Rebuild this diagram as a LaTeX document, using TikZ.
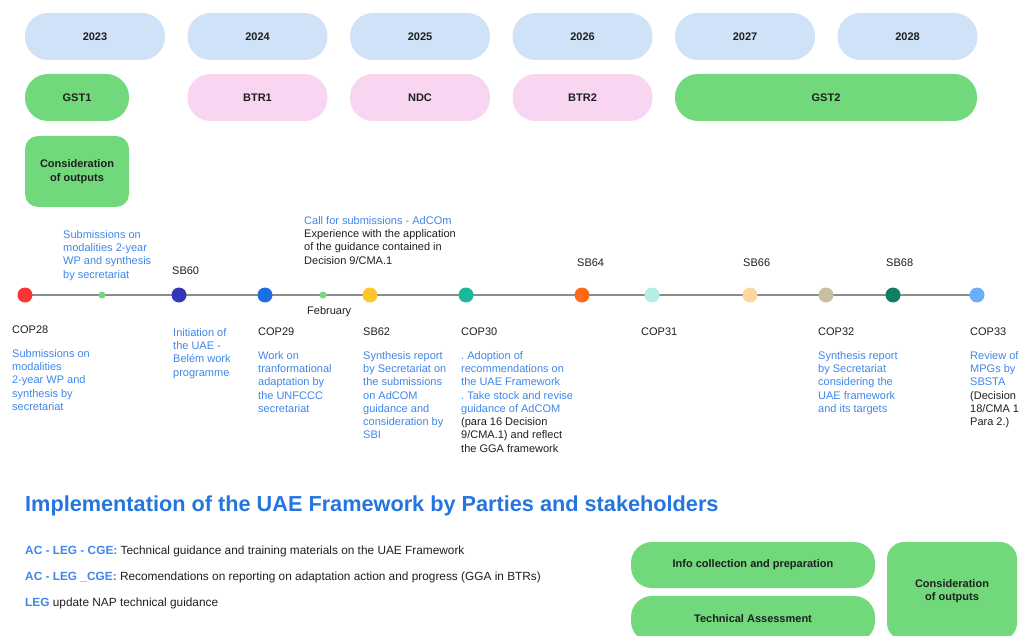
\documentclass[tikz,border=0pt]{standalone}
\usepackage{fontspec}
\setmainfont{Liberation Sans}
\usetikzlibrary{backgrounds}
\frenchspacing

\definecolor{yearblue}{HTML}{CFE2F8}
\definecolor{phasegreen}{HTML}{71D97B}
\definecolor{reportpink}{HTML}{F8D5F1}
\definecolor{ink}{HTML}{1F1F1F}
\definecolor{lblue}{HTML}{3F86E8}
\definecolor{titleblue}{HTML}{2475E0}
\definecolor{axisgray}{HTML}{8C8C8C}

\begin{document}
\begin{tikzpicture}[x=1pt,y=-1pt,
  box/.style={inner sep=0pt, align=center, text=ink,
    font=\fontsize{11}{13.6}\selectfont\bfseries},
  pill/.style={box, rounded corners=23pt, minimum height=47pt},
  yearpill/.style={pill, fill=yearblue, minimum width=140pt},
  greenpill/.style={pill, fill=phasegreen},
  pinkpill/.style={pill, fill=reportpink, minimum width=140pt},
  greenbox/.style={box, fill=phasegreen, rounded corners=13pt},
  dot/.style={circle, minimum size=15pt, inner sep=0pt},
  smalldot/.style={circle, minimum size=7pt, inner sep=0pt, fill=phasegreen},
  lbl/.style={font=\fontsize{11}{13.3}\selectfont, align=left, inner sep=0pt,
    anchor=north west, text=ink},
  bluelbl/.style={lbl, text=lblue},
  bottomline/.style={font=\fontsize{11.85}{14}\selectfont, inner sep=0pt,
    anchor=west, text=ink},
]
\useasboundingbox (0,0) rectangle (1019,636);
\clip (0,0) rectangle (1019,636);

% years
\node[yearpill] (y2023) at (95,36.5) {2023};
\node[yearpill] (y2024) at (257.5,36.5) {2024};
\node[yearpill] (y2025) at (420,36.5) {2025};
\node[yearpill] (y2026) at (582.5,36.5) {2026};
\node[yearpill] (y2027) at (745,36.5) {2027};
\node[yearpill] (y2028) at (907.5,36.5) {2028};

% processes
\node[greenpill, minimum width=104pt] (gst1) at (77,97.5) {GST1};
\node[pinkpill] (btr1) at (257.5,97.5) {BTR1};
\node[pinkpill] (ndc) at (420,97.5) {NDC};
\node[pinkpill] (btr2) at (582.5,97.5) {BTR2};
\node[greenpill, minimum width=302pt] (gst2) at (826,97.5) {GST2};
\node[greenbox, minimum width=104pt, minimum height=71pt] (cons1) at (77,171.5)
  {Consideration\\of outputs};

% timeline
\node[dot, fill={rgb,255:red,255;green,51;blue,51}] (d1) at (25,295) {};
\node[smalldot] (d2) at (102,295) {};
\node[dot, fill={rgb,255:red,53;green,53;blue,184}] (d3) at (179,295) {};
\node[dot, fill={rgb,255:red,26;green,111;blue,230}] (d4) at (265,295) {};
\node[smalldot] (d5) at (323,295) {};
\node[dot, fill={rgb,255:red,255;green,198;blue,39}] (d6) at (370,295) {};
\node[dot, fill={rgb,255:red,25;green,185;blue,154}] (d7) at (466,295) {};
\node[dot, fill={rgb,255:red,255;green,106;blue,26}] (d8) at (582,295) {};
\node[dot, fill={rgb,255:red,179;green,238;blue,230}] (d9) at (652,295) {};
\node[dot, fill={rgb,255:red,252;green,215;blue,158}] (d10) at (750,295) {};
\node[dot, fill={rgb,255:red,201;green,191;blue,159}] (d11) at (826,295) {};
\node[dot, fill={rgb,255:red,14;green,127;blue,98}] (d12) at (893,295) {};
\node[dot, fill={rgb,255:red,106;green,174;blue,248}] (d13) at (977,295) {};
\begin{scope}[on background layer]
  \draw[axisgray, line width=2pt] (d1.center) -- (d13.center);
\end{scope}

% labels above the timeline
\node[bluelbl] (subA) at (63,230)
  {Submissions on\\modalities 2-year\\WP and synthesis\\by secretariat};
\node[lbl] (sb60) at (172,267) {SB60};
\node[lbl] (call) at (304,216)
  {\textcolor{lblue}{Call for submissions - AdCOm}\\Experience with the application\\of the guidance contained in\\Decision 9/CMA.1};
\node[lbl] (feb) at (307,306) {February};
\node[lbl] (sb64) at (577,259) {SB64};
\node[lbl] (sb66) at (743,259) {SB66};
\node[lbl] (sb68) at (886,259) {SB68};

% labels below the timeline
\node[lbl] (cop28) at (12,326) {COP28};
\node[bluelbl] (subB) at (12,349)
  {Submissions on\\modalities\\2-year WP and\\synthesis by\\secretariat};
\node[bluelbl] (init) at (173,328) {Initiation of\\the UAE -\\Belém work\\programme};
\node[lbl] (cop29) at (258,328) {COP29};
\node[bluelbl] (work) at (258,351)
  {Work on\\tranformational\\adaptation by\\the UNFCCC\\secretariat};
\node[lbl] (sb62) at (363,328) {SB62};
\node[bluelbl] (synth) at (363,351)
  {Synthesis report\\by Secretariat on\\the submissions\\on AdCOM\\guidance and\\consideration by\\SBI};
\node[lbl] (cop30) at (461,328) {COP30};
\node[lbl] (adopt) at (461,351)
  {\textcolor{lblue}{. Adoption of}\\\textcolor{lblue}{recommendations on}\\\textcolor{lblue}{the UAE Framework}\\\textcolor{lblue}{. Take stock and revise}\\\textcolor{lblue}{guidance of AdCOM}\\(para 16 Decision\\9/CMA.1) and reflect\\the GGA framework};
\node[lbl] (cop31) at (641,328) {COP31};
\node[lbl] (cop32) at (818,328) {COP32};
\node[bluelbl] (synth2) at (818,351)
  {Synthesis report\\by Secretariat\\considering the\\UAE framework\\and its targets};
\node[lbl] (cop33) at (970,328) {COP33};
\node[lbl] (review) at (970,351)
  {\textcolor{lblue}{Review of}\\\textcolor{lblue}{MPGs by}\\\textcolor{lblue}{SBSTA}\\(Decision\\18/CMA 1\\Para 2.)};

% implementation section
\node[inner sep=0pt, anchor=west, text=titleblue,
  font=\fontsize{21.7}{26}\selectfont\bfseries] (title) at (25,506)
  {Implementation of the UAE Framework by Parties and stakeholders};
\node[bottomline] (acts1) at (25,551)
  {\textcolor{lblue}{\bfseries AC - LEG - CGE:} Technical guidance and training materials on the UAE Framework};
\node[bottomline] (acts2) at (25,577)
  {\textcolor{lblue}{\bfseries AC - LEG \_CGE:} Recomendations on reporting on adaptation action and progress (GGA in BTRs)};
\node[bottomline] (acts3) at (25,603)
  {\textcolor{lblue}{\bfseries LEG} update NAP technical guidance};

\node[greenpill, minimum width=244pt, minimum height=46pt, rounded corners=21pt]
  (info) at (753,565) {Info collection and preparation};
\node[greenpill, minimum width=244pt, minimum height=46pt, rounded corners=21pt,
  text depth=0pt] (tech) at (753,619) {Technical Assessment};
\node[greenbox, minimum width=130pt, minimum height=98pt, rounded corners=17pt]
  (cons2) at (952,591) {Consideration\\of outputs};
\end{tikzpicture}
\end{document}
